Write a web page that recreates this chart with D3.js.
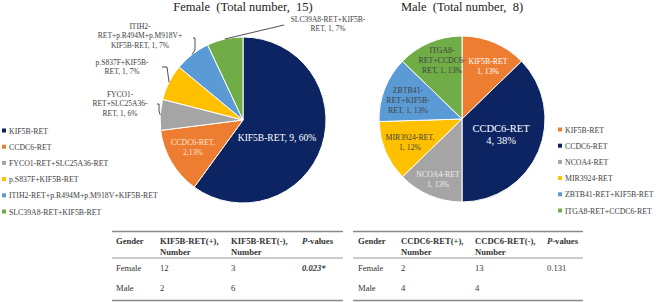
<!DOCTYPE html>
<html>
<head>
<meta charset="utf-8">
<script src="https://cdn.jsdelivr.net/npm/d3@7"></script>
<style>
  body { margin: 0; background: #fff; }
  svg { font-family: "Liberation Serif", "Times New Roman", serif; }
</style>
</head>
<body>
<svg id="chart" width="656" height="302"></svg>
<script>
// slice names, counts, percentages
const female_names = ["KIF5B-RET", "CCDC6-RET", "FYCO1-RET+SLC25A36-RET", "p.S837F+KIF5B-RET", "ITIH2-RET+p.R494M+p.M918V+KIF5B-RET", "SLC39A8-RET+KIF5B-RET"];
const female_counts = [9, 2, 1, 1, 1, 1];
const female_pct = [60, 13, 6, 7, 7, 7];

const male_names = ["KIF5B-RET", "CCDC6-RET", "NCOA4-RET", "MIR3924-RET", "ZBTB41-RET+KIF5B-RET", "ITGA8-RET+CCDC6-RET"];
const male_counts = [1, 4, 1, 1, 1, 1];
const male_pct = [13, 38, 13, 12, 13, 13];

const female_colors = ["#0c2461", "#ed7d31", "#a5a5a5", "#ffc000", "#5b9bd5", "#70ad47"];
const male_colors = ["#ed7d31", "#0c2461", "#a5a5a5", "#ffc000", "#5b9bd5", "#70ad47"];

// tables
const table_rows = ["Female", "Male"];
const kif5b_pos = [12, 2];
const kif5b_neg = [3, 6];
const kif5b_p = "0.023*";
const ccdc6_pos = [2, 4];
const ccdc6_neg = [13, 4];
const ccdc6_p = "0.131";

const svg = d3.select("#chart");
const R = 83;

// label layouts: lines of text + offset from pie centre (middle of first line), fill
const female_labels = [
  { lines: ["KIF5B-RET, 9, 60%"], dx: 34, dy: 18, fill: "#fff", size: 9.5 },
  { lines: ["CCDC6-RET,", "2,13%"], dx: -50, dy: 22, fill: "#fbe5d6", size: 7.8 },
  { lines: ["FYCO1-", "RET+SLC25A36-", "RET, 1, 6%"], dx: -123, dy: -26, fill: "#404040", size: 7.5, leader: [[-86, -16], [-84, -16], [-84, -9]] },
  { lines: ["p.S837F+KIF5B-", "RET, 1, 7%"], dx: -121, dy: -58, fill: "#404040", size: 7.5, leader: [[-81, -53], [-76, -53]] },
  { lines: ["ITIH2-", "RET+p.R494M+p.M918V+", "KIF5B-RET, 1, 7%"], dx: -103, dy: -94, fill: "#404040", size: 7.5, leader: [[-50, -82], [-48, -82], [-48, -70]] },
  { lines: ["SLC39A8-RET+KIF5B-", "RET, 1, 7%"], dx: 85, dy: -101, fill: "#404040", size: 7.5, leader: [[41, -95]] }
];
const male_labels = [
  { lines: ["KIF5B-RET", "1, 13%"], dx: 26, dy: -58, fill: "#fff", size: 7.8 },
  { lines: ["CCDC6-RET", "4, 38%"], dx: 39, dy: 9, fill: "#fff", size: 10.5 },
  { lines: ["NCOA4-RET", "1, 13%"], dx: -24, dy: 55, fill: "#eee", size: 7.8 },
  { lines: ["MIR3924-RET,", "1, 12%"], dx: -52, dy: 18, fill: "#404040", size: 7.8 },
  { lines: ["ZBTB41-", "RET+KIF5B-", "RET, 1, 13%"], dx: -54, dy: -29, fill: "#404040", size: 7.8 },
  { lines: ["ITGA8-", "RET+CCDC6-", "RET, 1, 13%"], dx: -20, dy: -69, fill: "#404040", size: 7.8 }
];

function drawPie(cx, cy, title, pct, colors, labels) {
  let g = svg.append("g").attr("transform", `translate(${cx},${cy})`);
  let pie = d3.pie().sort(null).value(d => d);
  let arc = d3.arc().innerRadius(0).outerRadius(R);
  let arcs = pie(pct);

  g.selectAll("path")
    .data(arcs)
    .enter()
    .append("path")
    .attr("d", arc)
    .attr("fill", (d, i) => colors[i])
    .attr("stroke", "#fff")
    .attr("stroke-width", 1);

  svg.append("text")
    .attr("x", cx)
    .attr("y", 11)
    .attr("text-anchor", "middle")
    .style("font-size", "12.5px")
    .style("white-space", "pre")
    .attr("fill", "#222")
    .text(title);

  labels.forEach(function (lab, i) {
    if (lab.leader) {
      let mid = (arcs[i].startAngle + arcs[i].endAngle) / 2;
      let end = [Math.sin(mid) * R, -Math.cos(mid) * R];
      let pts = lab.leader.concat([end]);
      g.append("path")
        .attr("d", d3.line()(pts))
        .attr("fill", "none")
        .attr("stroke", "#222")
        .attr("stroke-width", 0.8);
    }
    let t = g.append("text")
      .attr("text-anchor", "middle")
      .attr("fill", lab.fill)
      .style("font-size", lab.size + "px");
    lab.lines.forEach(function (line, j) {
      t.append("tspan")
        .attr("x", lab.dx)
        .attr("y", lab.dy + j * (lab.size + 2.1) + lab.size * 0.35)
        .text(line);
    });
  });
}

function drawLegend(x, y0, names, colors) {
  let g = svg.append("g");
  names.forEach(function (n, i) {
    let y = y0 + i * 16.2;
    g.append("rect")
      .attr("x", x).attr("y", y - 2.5)
      .attr("width", 4).attr("height", 4)
      .attr("fill", colors[i]);
    g.append("text")
      .attr("x", x + 7).attr("y", y + 2.5)
      .attr("fill", "#404040")
      .style("font-size", "7.8px")
      .text(n);
  });
}

function drawTable(x0, x1, cols, gene, pos, neg, pval, pBold) {
  let g = svg.append("g");
  g.append("line").attr("x1", x0).attr("x2", x1).attr("y1", 231.5).attr("y2", 231.5)
    .attr("stroke", "#888").attr("stroke-width", 1.5);
  g.append("line").attr("x1", x0).attr("x2", x1).attr("y1", 258).attr("y2", 258)
    .attr("stroke", "#999").attr("stroke-width", 1);
  g.append("line").attr("x1", x0).attr("x2", x1).attr("y1", 300.5).attr("y2", 300.5)
    .attr("stroke", "#888").attr("stroke-width", 1.5);

  let header = [["Gender"], [gene + "(+),", "Number"], [gene + "(-),", "Number"], ["P-values"]];
  header.forEach(function (lines, c) {
    lines.forEach(function (line, j) {
      let t = g.append("text")
        .attr("x", cols[c]).attr("y", 244 + j * 10.5)
        .attr("fill", "#333")
        .style("font-size", "8.6px")
        .style("font-weight", "bold");
      if (c === 3) {
        t.append("tspan").style("font-style", "italic").text("P");
        t.append("tspan").text("-values");
      } else {
        t.text(line);
      }
    });
  });

  table_rows.forEach(function (r, i) {
    let y = 271 + i * 20;
    let vals = [r, pos[i], neg[i]];
    vals.forEach(function (v, c) {
      g.append("text")
        .attr("x", cols[c]).attr("y", y)
        .attr("fill", "#333")
        .style("font-size", "8.6px")
        .text(v);
    });
  });
  g.append("text")
    .attr("x", cols[3]).attr("y", 271)
    .attr("fill", "#333")
    .style("font-size", "8.6px")
    .style("font-weight", pBold ? "bold" : "normal")
    .style("font-style", pBold ? "italic" : "normal")
    .text(pval);
}

drawPie(243, 120, "Female  (Total number,  15)", female_pct, female_colors, female_labels);
drawPie(462, 119, "Male  (Total number,  8)", male_pct, male_colors, male_labels);

drawLegend(2, 131, female_names, female_colors);
drawLegend(558, 130, male_names, male_colors);

drawTable(112, 343, [116, 160, 231, 302], "KIF5B-RET", kif5b_pos, kif5b_neg, kif5b_p, true);
drawTable(353, 583, [358, 401, 475, 547], "CCDC6-RET", ccdc6_pos, ccdc6_neg, ccdc6_p, false);
</script>
</body>
</html>
